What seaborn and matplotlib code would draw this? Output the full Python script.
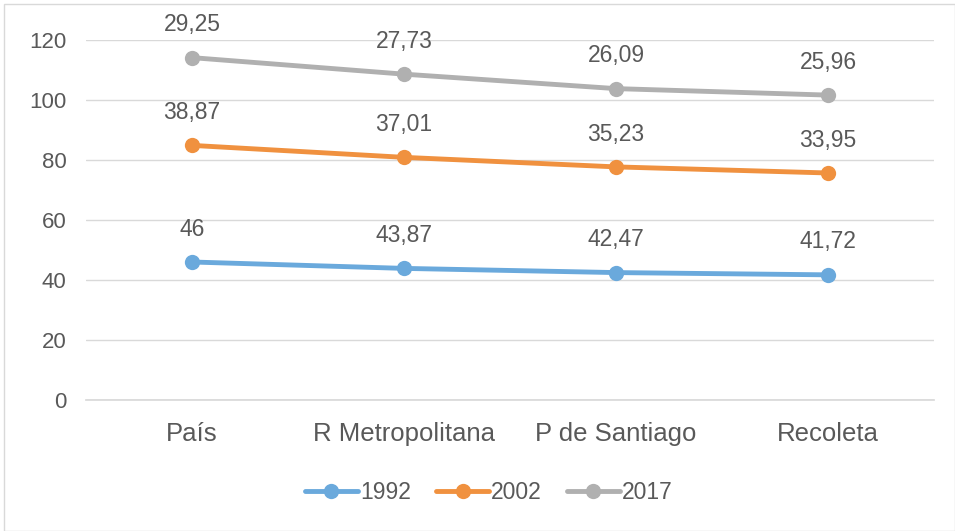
import pandas as pd
import matplotlib.pyplot as plt
import seaborn as sns
from matplotlib.patches import Rectangle

# datos (valores propios de cada serie, apilados en el gráfico)
categorias = ["País", "R Metropolitana", "P de Santiago", "Recoleta"]
anios = ["1992", "2002", "2017"]
v1992 = [46, 43.87, 42.47, 41.72]
v2002 = [38.87, 37.01, 35.23, 33.95]
v2017 = [29.25, 27.73, 26.09, 25.96]

colores = ["#6AA9DC", "#F0913F", "#B0B0B0"]
gris_texto = "#595959"

filas = []
base = [0.0] * len(categorias)
for anio, serie in zip(anios, [v1992, v2002, v2017]):
    for i, (cat, v) in enumerate(zip(categorias, serie)):
        base[i] += v
        filas.append({"cat": cat, "anio": anio, "valor": v, "acum": base[i]})
df = pd.DataFrame(filas)

sns.set_theme(style="white")
plt.rcParams["font.family"] = ["Liberation Sans", "DejaVu Sans"]

fig = plt.figure(figsize=(9.55, 5.31), dpi=100)
ax = fig.add_axes([0.090, 0.2467, 0.888, 0.678])

sns.lineplot(data=df, x="cat", y="acum", hue="anio", palette=colores,
             marker="o", markersize=11, linewidth=3.5, markeredgewidth=0,
             sort=False, ax=ax)

for _, r in df.iterrows():
    txt = f"{r['valor']:g}".replace(".", ",")
    ax.annotate(txt, (r["cat"], r["acum"]), xytext=(0, 19), textcoords="offset points",
                ha="center", va="baseline", fontsize=16.5, color=gris_texto)

ax.set_ylim(0, 120)
ax.set_xlim(-0.5, 3.5)
ax.set_yticks(range(0, 121, 20))
ax.yaxis.grid(True, color="#D9D9D9", linewidth=1)
ax.set_axisbelow(True)
for s in ["top", "right", "left"]:
    ax.spines[s].set_visible(False)
ax.spines["bottom"].set_color("#D9D9D9")
ax.tick_params(axis="y", length=0, labelsize=16, labelcolor=gris_texto, pad=14)
ax.tick_params(axis="x", length=0, labelsize=18.5, labelcolor=gris_texto, pad=16)
ax.set_xlabel("")
ax.set_ylabel("")

leg = ax.legend(loc="center", bbox_to_anchor=(0.512, 0.073), bbox_transform=fig.transFigure,
                ncol=3, frameon=False, fontsize=16.5, handlelength=2.3, columnspacing=1.1,
                handletextpad=0.1)
for t in leg.get_texts():
    t.set_color(gris_texto)

fig.patches.append(Rectangle((0.004, 0.0), 0.996, 0.992, transform=fig.transFigure,
                             fill=False, edgecolor="#D9D9D9", linewidth=1))

fig.savefig("out.png", dpi=100)
